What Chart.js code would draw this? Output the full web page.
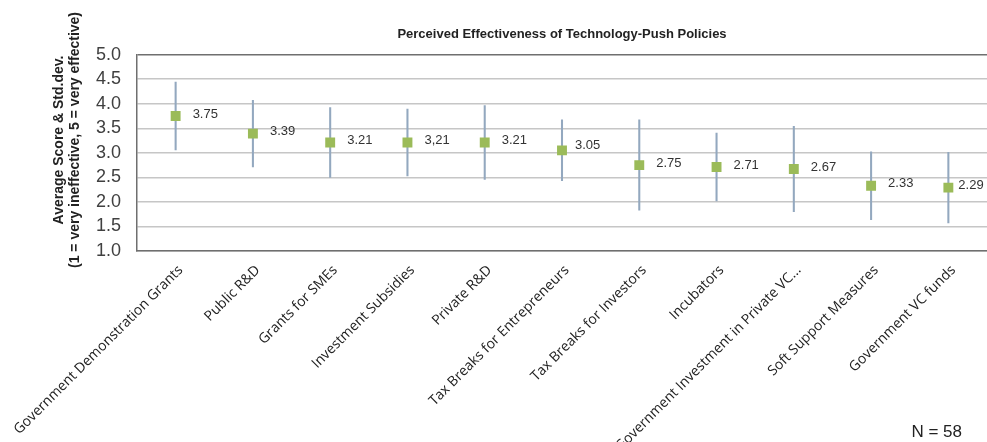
<!DOCTYPE html>
<html>
<head>
<meta charset="utf-8">
<script src="https://cdn.jsdelivr.net/npm/chart.js@4.4.1/dist/chart.umd.min.js"></script>
<style>
  html, body { margin: 0; padding: 0; background: #fff; overflow: hidden; }
  #wrap { width: 987px; height: 442px; }
</style>
</head>
<body>
<div id="wrap"><canvas id="chart"></canvas></div>
<script>
// policies, ordered as in the survey chart
const policies = [
  "Government Demonstration Grants",
  "Public R&D",
  "Grants for SMEs",
  "Investment Subsidies",
  "Private R&D",
  "Tax Breaks for Entrepreneurs",
  "Tax Breaks for Investors",
  "Incubators",
  "Government Investment in Private VC...",
  "Soft Support Measures",
  "Government VC funds"
];
const avgScore = [3.75, 3.39, 3.21, 3.21, 3.21, 3.05, 2.75, 2.71, 2.67, 2.33, 2.29];
const stdDev   = [0.69, 0.68, 0.71, 0.68, 0.75, 0.62, 0.92, 0.69, 0.87, 0.69, 0.72];
// labels as printed next to the markers (one uses a comma in the original)
const scoreLabels = ["3.75", "3.39", "3.21", "3,21", "3.21", "3.05", "2.75", "2.71", "2.67", "2.33", "2.29"];
const yMin = 1, yMax = 5, yStep = 0.5;
const chartTitle = "Perceived Effectiveness of Technology-Push Policies";
const yTitle = ["Average Score & Std.dev.", "(1 = very ineffective, 5 = very effective)"];
const sampleNote = "N = 58";

const errRanges = avgScore.map((m, i) => [m - stdDev[i], m + stdDev[i]]);

// value labels to the right of each marker
const valueLabels = {
  id: "valueLabels",
  afterDatasetsDraw(chart) {
    const meta = chart.getDatasetMeta(0);
    const ctx = chart.ctx;
    ctx.save();
    ctx.font = "13px 'Liberation Sans', Arial, sans-serif";
    ctx.fillStyle = "#333";
    ctx.textBaseline = "middle";
    meta.data.forEach((pt, i) => {
      let dx = 17, dy = -2;
      if (i === 5) { dx = 13; dy = -5; }
      if (i === meta.data.length - 1) dx = 10;
      ctx.fillText(scoreLabels[i], pt.x + dx, pt.y + dy);
    });
    ctx.restore();
  }
};

// y axis title (two lines) and the N note
const extraText = {
  id: "extraText",
  afterDraw(chart) {
    const ctx = chart.ctx;
    ctx.save();
    ctx.fillStyle = "#222";
    ctx.font = "bold 14px 'Liberation Sans', Arial, sans-serif";
    ctx.textAlign = "center";
    ctx.textBaseline = "middle";
    ctx.translate(0, 140);
    ctx.rotate(-Math.PI / 2);
    ctx.fillText(yTitle[0], 0, 59);
    ctx.fillText(yTitle[1], 0, 75);
    ctx.restore();

    ctx.save();
    ctx.fillStyle = "#222";
    ctx.font = "17px 'Liberation Sans', Arial, sans-serif";
    ctx.textAlign = "right";
    ctx.textBaseline = "middle";
    ctx.fillText(sampleNote, 962, 432);
    ctx.restore();
  }
};

new Chart(document.getElementById("chart"), {
  type: "bar",
  data: {
    labels: policies,
    datasets: [
      {
        type: "line",
        label: "Average score",
        data: avgScore,
        showLine: false,
        pointStyle: "rect",
        pointRadius: 7,
        pointBackgroundColor: "#9bbb59",
        pointBorderWidth: 0,
        order: 0
      },
      {
        type: "bar",
        label: "Std.dev.",
        data: errRanges,
        backgroundColor: "#93a8bf",
        barThickness: 1.4,
        borderWidth: 0,
        order: 1
      }
    ]
  },
  options: {
    responsive: true,
    maintainAspectRatio: false,
    animation: false,
    events: [],
    layout: { padding: 0, autoPadding: false },
    plugins: {
      legend: { display: false },
      tooltip: { enabled: false },
      title: {
        display: true,
        text: chartTitle,
        fullSize: false,
        color: "#222",
        font: { family: "'Liberation Sans', Arial, sans-serif", size: 13, weight: "bold" },
        padding: { top: 27, bottom: 12 }
      }
    },
    scales: {
      x: {
        grid: { display: false },
        border: { display: true, color: "#6f6f6f", width: 1.5 },
        ticks: {
          autoSkip: false,
          minRotation: 45,
          maxRotation: 45,
          padding: 3,
          labelOffset: 5,
          color: "#222",
          font: { family: "'Open Sans', sans-serif", size: 14 }
        },
        afterFit: s => { s.height = 191; s.paddingLeft = 0; s.paddingRight = 0; }
      },
      y: {
        min: yMin,
        max: yMax,
        grid: {
          drawTicks: false,
          lineWidth: 1.5,
          color: c => (c.tick && c.tick.value === yMax) ? "#6f6f6f" : "#c6c6c6"
        },
        border: { display: true, color: "#6f6f6f", width: 1.5 },
        ticks: {
          autoSkip: false,
          stepSize: yStep,
          padding: 16,
          color: "#404040",
          font: { family: "'Liberation Sans', Arial, sans-serif", size: 18 },
          callback: v => v.toFixed(1)
        },
        afterFit: s => { s.width = 137; s.paddingTop = 0; s.paddingBottom = 0; }
      }
    }
  },
  plugins: [valueLabels, extraText]
});
</script>
</body>
</html>
